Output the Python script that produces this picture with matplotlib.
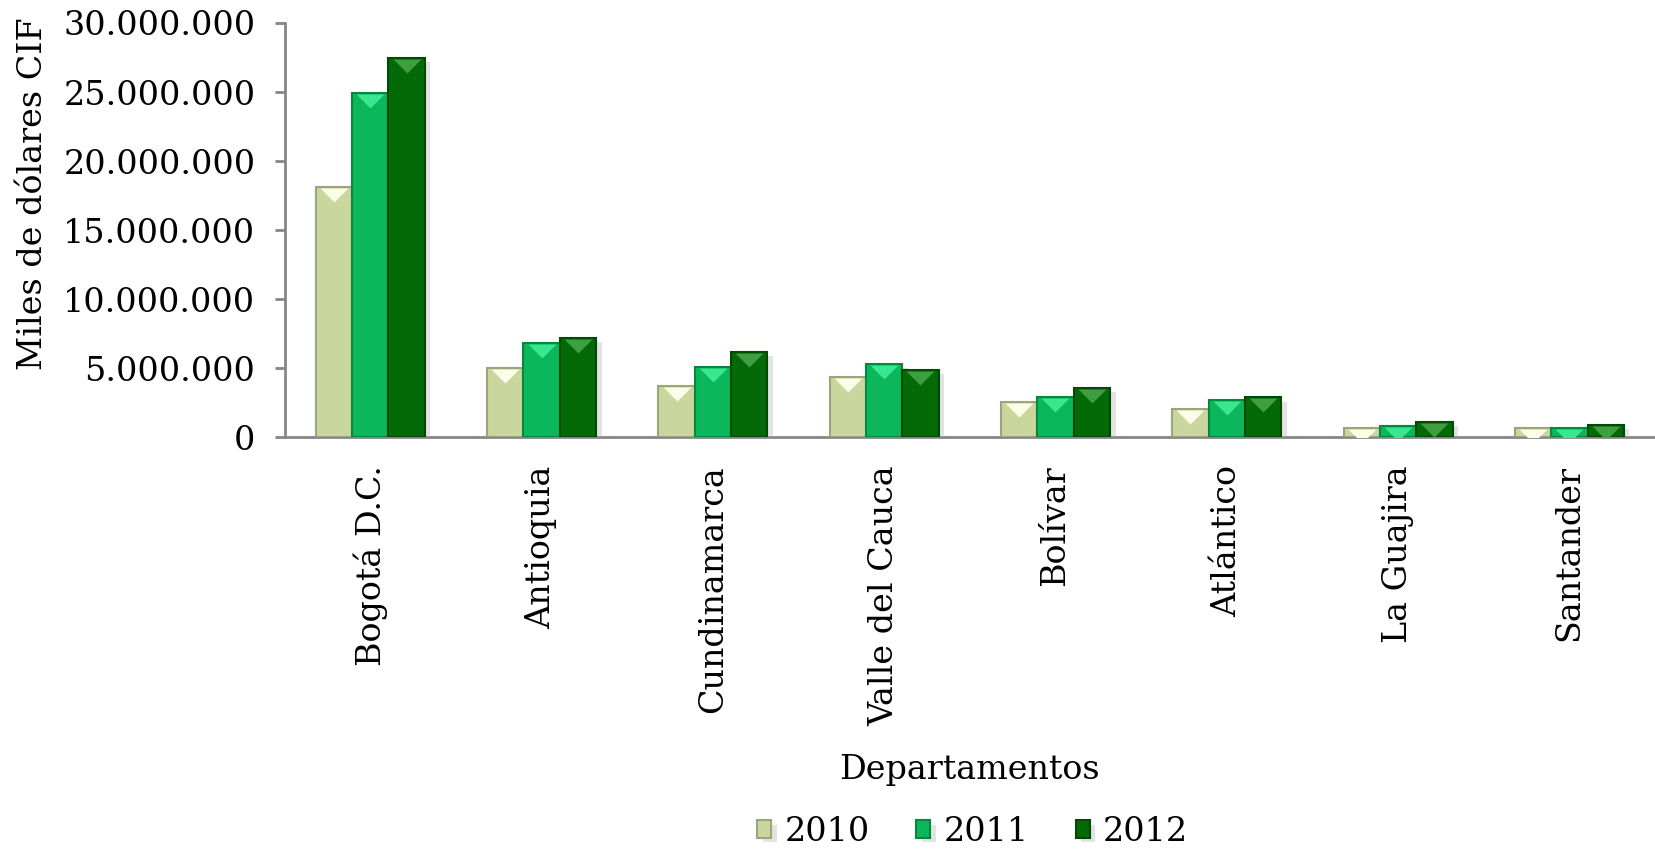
import numpy as np
import matplotlib
matplotlib.use('Agg')
import matplotlib.pyplot as plt
import matplotlib.transforms as mtransforms
import matplotlib.patheffects as pe
from matplotlib.ticker import FuncFormatter

plt.rcParams['font.family'] = ['DejaVu Serif']

departamentos = ['Bogotá D.C.', 'Antioquia', 'Cundinamarca', 'Valle del Cauca',
                 'Bolívar', 'Atlántico', 'La Guajira', 'Santander']
anios = ['2010', '2011', '2012']
v2010 = [18100000, 5000000, 3700000, 4350000, 2550000, 2050000, 650000, 650000]
v2011 = [24900000, 6850000, 5100000, 5300000, 2900000, 2700000, 850000, 700000]
v2012 = [27500000, 7200000, 6200000, 4900000, 3600000, 2900000, 1100000, 900000]
series = [v2010, v2011, v2012]

caras = ['#c9d79f', '#0cb65a', '#046a08']
bordes = ['#9ba57c', '#03893e', '#014a03']
brillo = ['#fbfde6', '#38e891', '#3f9e3f']

TAM = 24

fig = plt.figure(figsize=[16.55, 8.51], dpi=100)
ax = fig.add_axes([0.172, 0.486, 0.828, 0.487])

x = np.arange(len(departamentos))
ancho = 0.212
tri = [(-1, 0.5), (1, 0.5), (0, -0.5)]  # triangulo aplanado
sombra = [pe.SimplePatchShadow(offset=(4, -3), shadow_rgbFace='#b0b0b0', alpha=0.35), pe.Normal()]
off = mtransforms.offset_copy(ax.transData, fig=fig, x=0, y=-8, units='dots')
for i, (vals, nombre) in enumerate(zip(series, anios)):
    pos = x + (i - 1) * ancho
    barras = ax.bar(pos, vals, width=ancho, color=caras[i], edgecolor=bordes[i],
                    linewidth=1.5, label=nombre, zorder=3, path_effects=sombra)
    # brillo en la parte de arriba (efecto bisel), recortado a cada barra
    for p, v, b in zip(pos, vals, barras):
        ln, = ax.plot([p], [v], linestyle='none', marker=tri, markersize=20,
                      color=brillo[i], markeredgewidth=0, transform=off, zorder=4)
        ln.set_clip_path(b)

ax.set_xlim(-0.5, len(departamentos) - 0.5)
ax.set_ylim(0, 30000000)
ax.set_yticks(np.arange(0, 30000001, 5000000))
ax.yaxis.set_major_formatter(FuncFormatter(lambda v, p: f'{int(v):,}'.replace(',', '.')))
ax.set_xticks(x)
ax.set_xticklabels(departamentos, rotation=90, fontsize=TAM)
ax.tick_params(axis='y', labelsize=TAM, length=7, width=2, color='#868686', pad=14)
ax.tick_params(axis='x', length=0, pad=20)

for s in ['top', 'right']:
    ax.spines[s].set_visible(False)
for s in ['left', 'bottom']:
    ax.spines[s].set_color('#868686')
    ax.spines[s].set_linewidth(2)

ax.set_ylabel('Miles de dólares CIF', fontsize=TAM)
ax.yaxis.set_label_coords(-0.172, 0.589)
ax.set_xlabel('Departamentos', fontsize=TAM)
ax.xaxis.set_label_coords(0.50, -0.765)

ax.legend(loc='center', bbox_to_anchor=(0.502, -0.952), ncol=3, frameon=False,
          fontsize=TAM, handlelength=0.42, handleheight=0.42, columnspacing=1.4,
          handletextpad=0.4)

plt.savefig('out.png')
